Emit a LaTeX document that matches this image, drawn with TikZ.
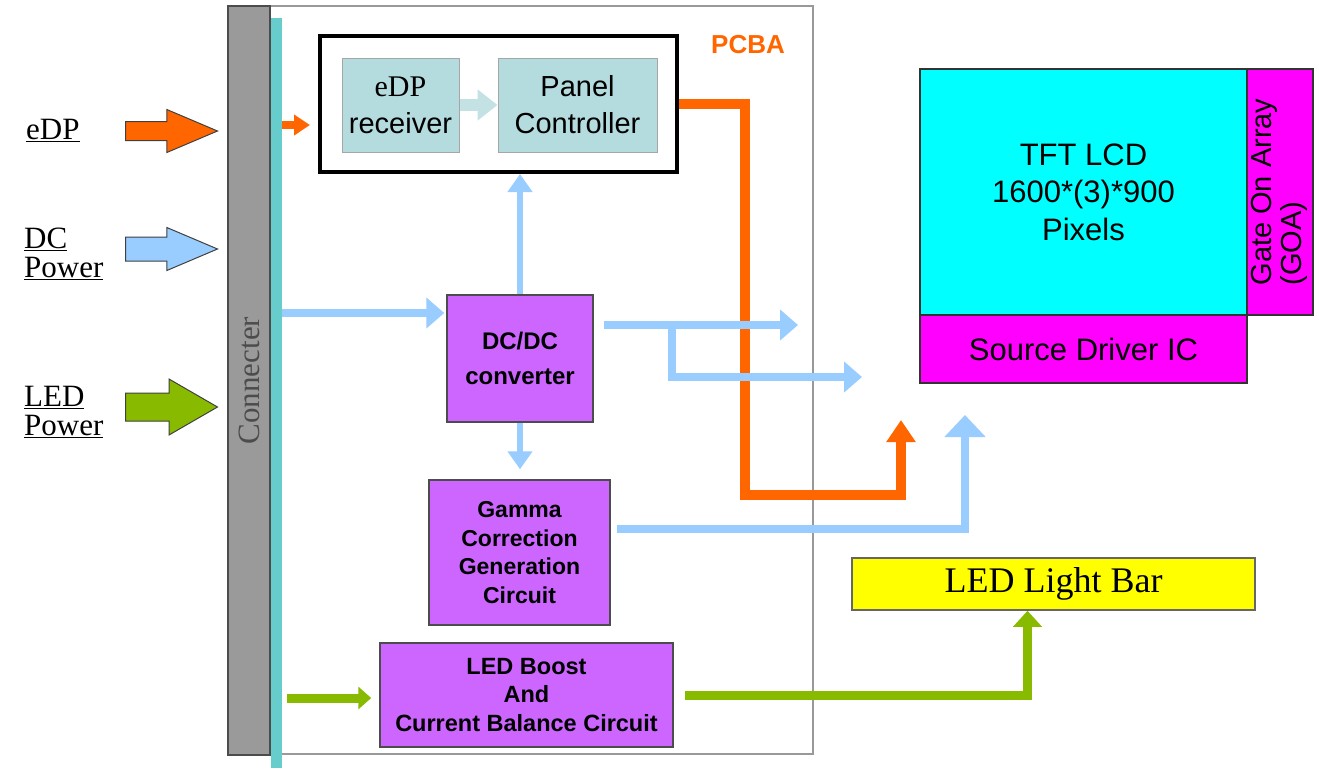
\documentclass[tikz,border=0pt]{standalone}
\usepackage{fontspec}
\setmainfont{Liberation Serif}
\setsansfont{Liberation Sans}
\usetikzlibrary{positioning,shapes.arrows,arrows.meta}
\definecolor{sigorange}{HTML}{FF6600}
\definecolor{pwrblue}{HTML}{99CCFF}
\definecolor{ledgreen}{HTML}{88BB00}
\definecolor{chippurple}{HTML}{CC66FF}
\definecolor{boxteal}{HTML}{B4DCDF}
\definecolor{paleteal}{HTML}{C4E2E4}
\definecolor{stripcyan}{HTML}{66CCCC}
\definecolor{conngray}{HTML}{9A9A9A}
\definecolor{lcdcyan}{HTML}{00FFFF}
\definecolor{drvmagenta}{HTML}{FF00FF}
\definecolor{baryellow}{HTML}{FFFF00}
\newcommand{\fsz}[2]{\fontsize{#1}{#2}\selectfont}
\tikzset{
  board/.style={draw=black!40, line width=1.5pt, inner sep=0pt},
  connbar/.style={draw=black!70, fill=conngray, line width=1.5pt, inner sep=0pt,
    text=black!70, font=\fsz{31}{31}},
  subchip/.style={draw=black!35, fill=boxteal, line width=1pt, inner sep=0pt,
    align=center, font=\sffamily\fsz{29}{37}},
  chip/.style={draw=black!70, fill=chippurple, line width=1.5pt, inner sep=0pt,
    align=center, font=\sffamily\bfseries},
  lcd/.style={draw=black!80, line width=1.2pt, inner sep=0pt, align=center,
    font=\sffamily},
  inarrow/.style={single arrow, draw=black!75, line width=1pt, inner xsep=0pt,
    anchor=tail, minimum height=92pt},
  inlabel/.style={anchor=west, align=left, inner sep=0pt, font=\fsz{31}{29}},
  bluepath/.style={draw=pwrblue, line width=8pt, -{Triangle[width=30pt,length=18pt]}},
  bluethin/.style={draw=pwrblue, line width=6pt, -{Triangle[width=24pt,length=18pt]}},
  sigpath/.style={draw=sigorange, line width=10pt, -{Triangle[width=28pt,length=22pt]}},
  ledpath/.style={draw=ledgreen, line width=9pt, -{Triangle[width=28pt,length=16pt]}},
}

\begin{document}
\begin{tikzpicture}[x=1pt,y=-1pt]
    \useasboundingbox[fill=white] (0,0) rectangle (1319,769);
    % board outline and connector
    \node[board, minimum width=583pt, minimum height=748pt] (pcba) at (521.5,380) {};
    \node[font=\sffamily\bfseries\fsz{26}{30}, text=sigorange] (pcbalbl) at (748,45) {PCBA};
    \node[fill=stripcyan, inner sep=0pt, minimum width=11pt, minimum height=750pt] (strip) at (276.5,393) {};
    \node[connbar, minimum width=42pt, minimum height=749pt] (conn) at (249,380.5) {\rotatebox{90}{Connecter}};

    % inputs
    \node[inlabel] (edplbl) at (26,130) {\underline{eDP}};
    \node[inlabel] (dclbl) at (24,254) {\underline{DC}\\\underline{Power}};
    \node[inlabel] (ledlbl) at (24,412) {\underline{LED}\\\underline{Power}};
    \node[inarrow, fill=sigorange, inner ysep=9pt, single arrow head extend=12pt,
      single arrow tip angle=46] (edpin) at (125,131) {};
    \node[inarrow, fill=pwrblue, inner ysep=11.5pt, single arrow head extend=9.5pt,
      single arrow tip angle=46] (dcin) at (125,249) {};
    \node[inarrow, fill=ledgreen, inner ysep=13.5pt, single arrow head extend=14pt,
      single arrow tip angle=60] (ledin) at (125,407) {};

    % timing controller
    \node[draw, line width=4pt, minimum width=357pt, minimum height=136pt] (tcon) at (498.5,104) {};
    \node[subchip, minimum width=117pt, minimum height=94pt] (rx) at (400.5,105)
      {{\rmfamily\fsz{30}{37}eDP}\\receiver};
    \node[subchip, minimum width=159pt, minimum height=94pt] (pc) at (577.5,105)
      {Panel\\Controller};
    \draw[draw=paleteal, line width=12pt, -{Triangle[width=30pt,length=20pt]}] (rx.east) -- (pc.west);

    % power blocks
    \node[chip, font=\sffamily\bfseries\fsz{24}{35}, minimum width=146pt, minimum height=127pt] (dcdc) at (520,358.5)
      {DC/DC\\converter};
    \node[chip, font=\sffamily\bfseries\fsz{23}{28.5}, minimum width=181pt, minimum height=145pt] (gamma) at (519.5,552.5)
      {Gamma\\Correction\\Generation\\Circuit};
    \node[chip, font=\sffamily\bfseries\fsz{23.5}{28.5}, minimum width=293pt, minimum height=104pt] (boost) at (526.5,695)
      {LED Boost\\And\\Current Balance Circuit};

    % panel side
    \node[lcd, fill=lcdcyan, font=\sffamily\fsz{31}{37.5}, minimum width=327pt, minimum height=246pt] (tft) at (1083.5,192)
      {TFT LCD\\1600*(3)*900\\Pixels};
    \node[lcd, fill=drvmagenta, font=\sffamily\fsz{31}{36}, minimum width=327pt, minimum height=68pt] (sdic) at (1083.5,349)
      {Source Driver IC};
    \node[lcd, fill=drvmagenta, font=\sffamily\fsz{29}{30}, minimum width=66pt, minimum height=246pt] (goa) at (1280,192)
      {\rotatebox{90}{\begin{tabular}{@{}l@{}}Gate On Array\\(GOA)\end{tabular}}};
    \node[draw=black!60, fill=baryellow, line width=1.5pt, inner sep=0pt, font=\fsz{36}{36},
      minimum width=403pt, minimum height=52pt] (ledbar) at (1053.5,584) {LED Light Bar};

    % connection points
    \coordinate (o1) at (282,125);
    \coordinate (o2) at (901,420);
    \coordinate (b1) at (282,313);
    \coordinate (b2) at (604,325);
    \coordinate (b3) at (798,325);
    \coordinate (b4) at (617,529);
    \coordinate (b5) at (965,415);
    \coordinate (b6) at (862,377);
    \coordinate (g1) at (287,698);
    \coordinate (g2) at (685,695);

    % signal path
    \draw[sigpath, line width=8pt, -{Triangle[width=20pt,length=16pt]}] (o1) -- ([xshift=-8pt]o1 -| tcon.west);
    \draw[sigpath] (tcon.east) -| (745,495) -| (o2);

    % power paths
    \draw[bluepath] (b1) -- ([xshift=-2pt]b1 -| dcdc.west);
    \draw[bluethin] (dcdc.north) -- (dcdc.north |- tcon.south);
    \draw[bluethin, shorten >=10pt] (dcdc.south) -- (dcdc.south |- gamma.north);
    \draw[bluepath] (b2) -- (b3);
    \draw[bluepath] (672,325) |- (b6);
    \draw[bluepath, -{Triangle[width=40pt,length=22pt]}] (b4) -| (b5);

    % backlight path
    \draw[ledpath, -{Triangle[width=22pt,length=13pt]}] (g1) -- ([xshift=-8pt]g1 -| boost.west);
    \draw[ledpath] (g2) -| ([xshift=-26pt]ledbar.south);
\end{tikzpicture}
\end{document}
